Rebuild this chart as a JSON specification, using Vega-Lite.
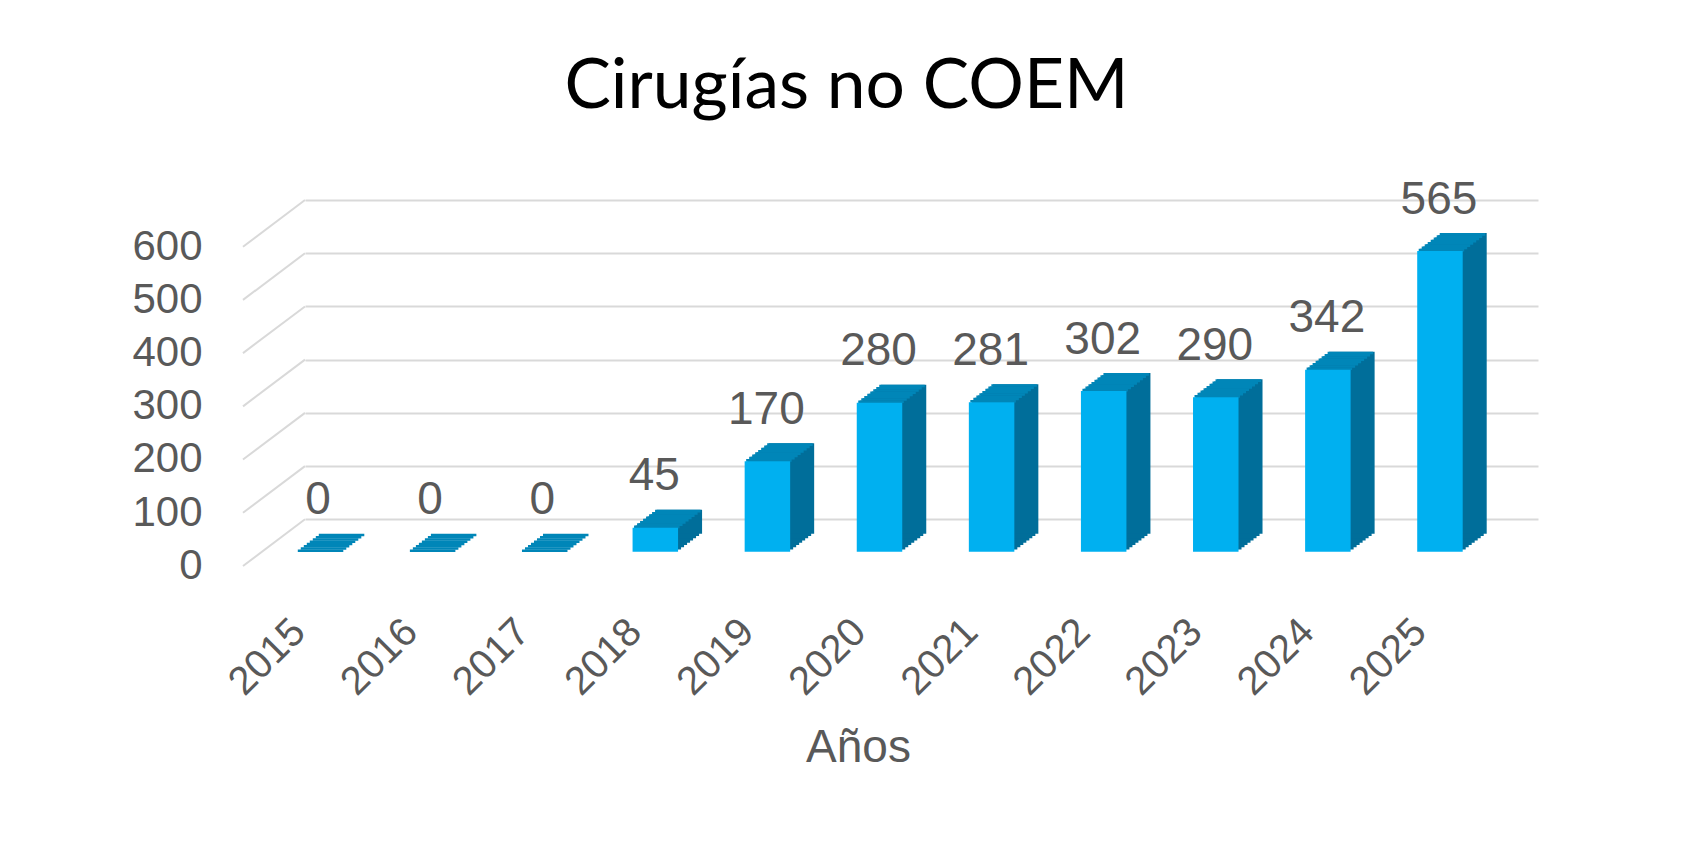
{
  "$schema": "https://vega.github.io/schema/vega-lite/v6.json",
  "width": 1233,
  "height": 319.3,
  "autosize": {"type": "none"},
  "padding": {"left": 305, "top": 200, "right": 158, "bottom": 326.7},
  "background": "white",
  "title": {
    "text": "Cirugías no COEM",
    "font": "Lato",
    "fontSize": 69.5,
    "fontWeight": "normal",
    "color": "#000000",
    "anchor": "middle",
    "frame": "group",
    "baseline": "alphabetic",
    "offset": -1,
    "dx": -75
  },
  "datasets": {
    "cirugias": [
      {"anio": "2015", "valor": 0},
      {"anio": "2016", "valor": 0},
      {"anio": "2017", "valor": 0},
      {"anio": "2018", "valor": 45},
      {"anio": "2019", "valor": 170},
      {"anio": "2020", "valor": 280},
      {"anio": "2021", "valor": 281},
      {"anio": "2022", "valor": 302},
      {"anio": "2023", "valor": 290},
      {"anio": "2024", "valor": 342},
      {"anio": "2025", "valor": 565}
    ],
    "marcas": [
      {"valor": 0}, {"valor": 100}, {"valor": 200}, {"valor": 300}, {"valor": 400}, {"valor": 500}, {"valor": 600}
    ]
  },
  "data": {"name": "cirugias"},
  "encoding": {
    "x": {
      "field": "anio",
      "type": "nominal",
      "scale": {
        "domain": ["2015", "2016", "2017", "2018", "2019", "2020", "2021", "2022", "2023", "2024", "2025"],
        "paddingInner": 0,
        "paddingOuter": 0
      },
      "axis": {
        "title": "Años",
        "labelAngle": -45,
        "labelAlign": "right",
        "labelBaseline": "middle",
        "labelPadding": 106,
        "labelOffset": -62,
        "labelFont": "Liberation Sans",
        "labelFontSize": 40,
        "labelColor": "#595959",
        "labelOverlap": false,
        "domain": false,
        "ticks": false,
        "tickSize": 0,
        "grid": false,
        "titleFont": "Liberation Sans",
        "titleFontSize": 46,
        "titleFontWeight": "normal",
        "titleColor": "#595959",
        "titleX": 553,
        "titleY": 242.4,
        "titleBaseline": "alphabetic",
        "titleAlign": "center"
      }
    },
    "y": {
      "field": "valor",
      "type": "quantitative",
      "scale": {"domain": [0, 600], "nice": false},
      "axis": {
        "title": null,
        "values": [0, 100, 200, 300, 400, 500, 600],
        "grid": true,
        "gridColor": "#d9d9d9",
        "gridWidth": 2,
        "domain": false,
        "ticks": false,
        "tickSize": 0,
        "labelPadding": 103,
        "labelOffset": 46,
        "labelFont": "Liberation Sans",
        "labelFontSize": 42,
        "labelColor": "#595959",
        "labelBaseline": "middle",
        "labelFlush": false,
        "labelOverlap": false
      }
    }
  },
  "layer": [
    {
      "data": {"name": "marcas"},
      "mark": {"type": "rule", "color": "#d9d9d9", "strokeWidth": 2, "xOffset": -56.05, "x2Offset": -118.05, "y2Offset": 46.7},
      "encoding": {
        "x": {"datum": "2015", "type": "nominal"},
        "x2": {"datum": "2015"},
        "y2": {"field": "valor"}
      }
    },
    {"mark": {"type": "bar", "width": 45.5, "color": "#006E9A", "xOffset": -39, "yOffset": 30.15, "y2Offset": 30.15}, "encoding": {"y2": {"datum": 0}}},
    {"mark": {"type": "bar", "width": 45.5, "color": "#006E9A", "xOffset": -36, "yOffset": 27.9, "y2Offset": 27.9}, "encoding": {"y2": {"datum": 0}}},
    {"mark": {"type": "bar", "width": 45.5, "color": "#006E9A", "xOffset": -33, "yOffset": 25.65, "y2Offset": 25.65}, "encoding": {"y2": {"datum": 0}}},
    {"mark": {"type": "bar", "width": 45.5, "color": "#006E9A", "xOffset": -30, "yOffset": 23.4, "y2Offset": 23.4}, "encoding": {"y2": {"datum": 0}}},
    {"mark": {"type": "bar", "width": 45.5, "color": "#006E9A", "xOffset": -27, "yOffset": 21.15, "y2Offset": 21.15}, "encoding": {"y2": {"datum": 0}}},
    {"mark": {"type": "bar", "width": 45.5, "color": "#006E9A", "xOffset": -24, "yOffset": 18.9, "y2Offset": 18.9}, "encoding": {"y2": {"datum": 0}}},
    {"mark": {"type": "bar", "width": 45.5, "color": "#006E9A", "xOffset": -21, "yOffset": 16.65, "y2Offset": 16.65}, "encoding": {"y2": {"datum": 0}}},
    {"mark": {"type": "bar", "width": 45.5, "color": "#006E9A", "xOffset": -18, "yOffset": 14.4, "y2Offset": 14.4}, "encoding": {"y2": {"datum": 0}}},
    {"mark": {"type": "bar", "width": 45.5, "color": "#0086B8", "xOffset": -40.5, "yOffset": 30.15, "y2Offset": 32.8}, "encoding": {"y2": {"field": "valor"}}},
    {"mark": {"type": "bar", "width": 45.5, "color": "#0086B8", "xOffset": -37.5, "yOffset": 27.9, "y2Offset": 30.55}, "encoding": {"y2": {"field": "valor"}}},
    {"mark": {"type": "bar", "width": 45.5, "color": "#0086B8", "xOffset": -34.5, "yOffset": 25.65, "y2Offset": 28.3}, "encoding": {"y2": {"field": "valor"}}},
    {"mark": {"type": "bar", "width": 45.5, "color": "#0086B8", "xOffset": -31.5, "yOffset": 23.4, "y2Offset": 26.05}, "encoding": {"y2": {"field": "valor"}}},
    {"mark": {"type": "bar", "width": 45.5, "color": "#0086B8", "xOffset": -28.5, "yOffset": 21.15, "y2Offset": 23.8}, "encoding": {"y2": {"field": "valor"}}},
    {"mark": {"type": "bar", "width": 45.5, "color": "#0086B8", "xOffset": -25.5, "yOffset": 18.9, "y2Offset": 21.55}, "encoding": {"y2": {"field": "valor"}}},
    {"mark": {"type": "bar", "width": 45.5, "color": "#0086B8", "xOffset": -22.5, "yOffset": 16.65, "y2Offset": 19.3}, "encoding": {"y2": {"field": "valor"}}},
    {"mark": {"type": "bar", "width": 45.5, "color": "#0086B8", "xOffset": -19.5, "yOffset": 14.4, "y2Offset": 17.05}, "encoding": {"y2": {"field": "valor"}}},
    {"mark": {"type": "bar", "width": 45.5, "color": "#00B0F0", "xOffset": -42, "yOffset": 32.4, "y2Offset": 32.4}, "encoding": {"y2": {"datum": 0}}},
    {
      "mark": {"type": "text", "font": "Liberation Sans", "fontSize": 46, "color": "#595959", "baseline": "alphabetic", "align": "center", "xOffset": -43, "yOffset": -5},
      "encoding": {"text": {"field": "valor", "type": "quantitative"}}
    }
  ],
  "config": {"view": {"stroke": null}}
}
